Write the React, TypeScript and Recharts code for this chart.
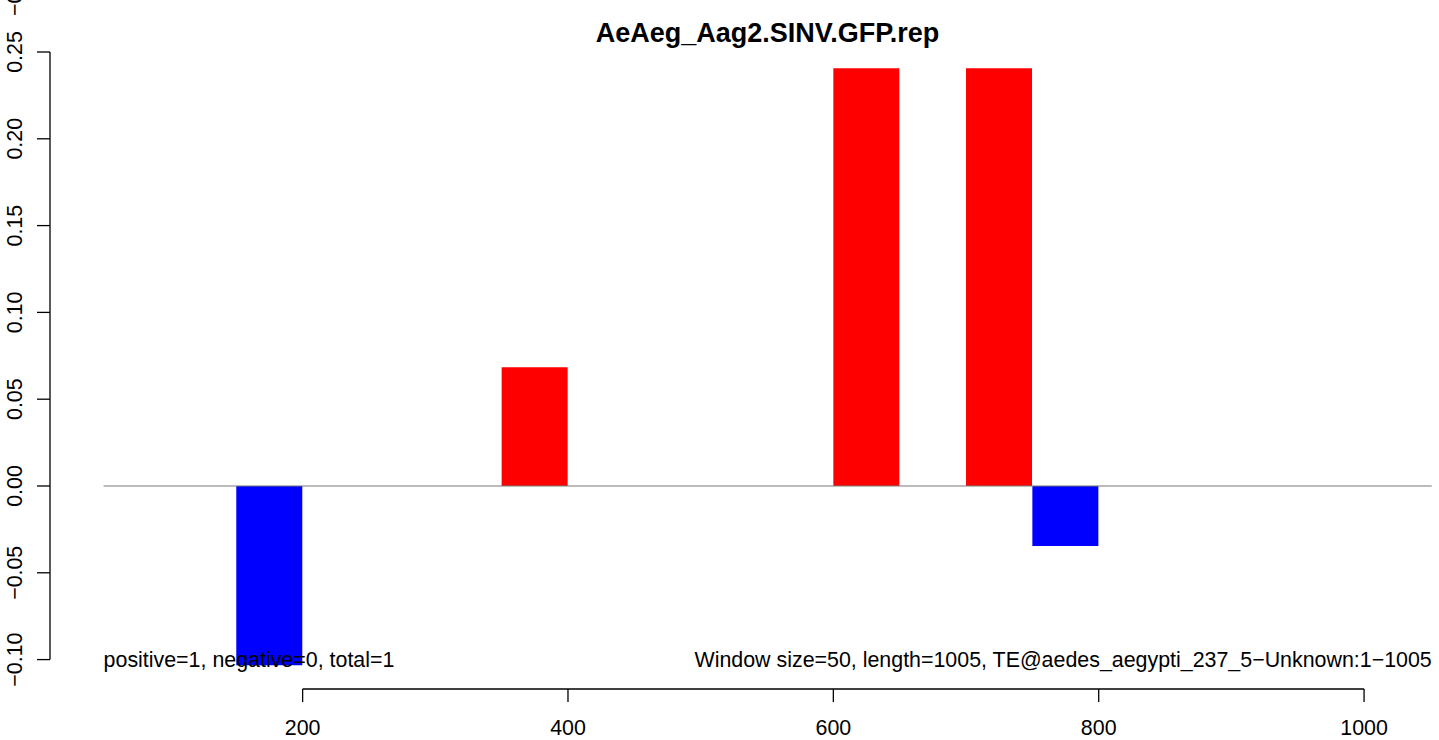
// Window-wise bar chart (R-style base graphics look) with Recharts.
import {
  ComposedChart,
  Bar,
  Cell,
  XAxis,
  YAxis,
  ReferenceLine,
  ReferenceDot,
} from "recharts";

const TITLE = "AeAeg_Aag2.SINV.GFP.rep";
const NOTE_LEFT = "positive=1, negative=0, total=1";
const NOTE_RIGHT =
  "Window size=50, length=1005, TE@aedes_aegypti_237_5\u2212Unknown:1\u22121005";

// Window midpoints (window size 50) and the score of each window.
const windowMids = [
  25, 75, 125, 175, 225, 275, 325, 375, 425, 475, 525, 575, 625, 675, 725, 775,
  825, 875, 925, 975, 1025,
];
const windowValues = [
  0, 0, 0, -0.1032, 0, 0, 0, 0.0684, 0, 0, 0, 0, 0.2406, 0, 0.2406, -0.0346, 0,
  0, 0, 0, 0,
];

const xTicks = [200, 400, 600, 800, 1000];
const yTicks = [-0.1, -0.05, 0, 0.05, 0.1, 0.15, 0.2, 0.25];

// Axis domains and the extent of the zero line / notes.
const X_DOMAIN: [number, number] = [9.6, 1051.2];
const Y_DOMAIN: [number, number] = [-0.11694, 0.26267];
const LINE_START = 50;
const LINE_END = 1051;
const NOTE_Y = -0.1;

const POS_COLOR = "#FF0000";
const NEG_COLOR = "#0000FF";
const ZERO_COLOR = "#777777";
const FONT = '"Liberation Sans", Arial, Helvetica, sans-serif';
const FS = 21.4;

const data = windowMids.map((mid, i) => ({ mid, value: windowValues[i] }));

function XTick({ x, y, payload }: any) {
  return (
    <text
      x={x}
      y={y}
      dy={31}
      textAnchor="middle"
      fontSize={FS}
      fontFamily={FONT}
      fill="#000"
    >
      {payload.value}
    </text>
  );
}

function YTick({ y, payload }: any) {
  return (
    <text
      transform={`translate(22, ${y}) rotate(-90)`}
      textAnchor="middle"
      fontSize={FS}
      fontFamily={FONT}
      fill="#000"
    >
      {payload.value.toFixed(2).replace("-", "\u2212")}
    </text>
  );
}

export default function App() {
  return (
    <div
      style={{
        position: "absolute",
        left: 0,
        top: 0,
        width: 1439,
        height: 740,
        background: "#fff",
      }}
    >
      <ComposedChart
        width={1439}
        height={740}
        data={data}
        margin={{ top: 30, right: 7, bottom: 0, left: 0 }}
        barCategoryGap={0}
      >
        <XAxis
          type="number"
          dataKey="mid"
          domain={X_DOMAIN}
          ticks={xTicks}
          height={51}
          axisLine={false}
          tickSize={13}
          tickLine={{ stroke: "#000", strokeWidth: 1.3 }}
          tick={<XTick />}
          interval={0}
          allowDataOverflow
        />
        <YAxis
          type="number"
          domain={Y_DOMAIN}
          ticks={yTicks}
          width={50}
          axisLine={false}
          tickSize={13}
          tickLine={{ stroke: "#000", strokeWidth: 1.3 }}
          tick={<YTick />}
          interval={0}
          allowDataOverflow
        />
        <ReferenceLine
          segment={[
            { x: xTicks[0], y: Y_DOMAIN[0] },
            { x: xTicks[xTicks.length - 1], y: Y_DOMAIN[0] },
          ]}
          stroke="#000"
          strokeWidth={1.3}
          ifOverflow="visible"
        />
        <ReferenceLine
          segment={[
            { x: X_DOMAIN[0], y: yTicks[0] },
            { x: X_DOMAIN[0], y: yTicks[yTicks.length - 1] },
          ]}
          stroke="#000"
          strokeWidth={1.3}
          ifOverflow="visible"
        />
        <ReferenceLine
          segment={[
            { x: LINE_START, y: 0 },
            { x: LINE_END, y: 0 },
          ]}
          stroke={ZERO_COLOR}
          strokeWidth={1}
          ifOverflow="visible"
        />
        <Bar dataKey="value" isAnimationActive={false}>
          {data.map((d, i) => (
            <Cell key={i} fill={d.value >= 0 ? POS_COLOR : NEG_COLOR} />
          ))}
        </Bar>
        <ReferenceDot
          x={LINE_START}
          y={NOTE_Y}
          r={0}
          fill="none"
          stroke="none"
          ifOverflow="visible"
          label={{
            value: NOTE_LEFT,
            position: "right",
            offset: 0,
            fontSize: FS,
            fontFamily: FONT,
            fill: "#000",
          }}
        />
        <ReferenceDot
          x={LINE_END}
          y={NOTE_Y}
          r={0}
          fill="none"
          stroke="none"
          ifOverflow="visible"
          label={{
            value: NOTE_RIGHT,
            position: "left",
            offset: 0,
            fontSize: FS,
            fontFamily: FONT,
            fill: "#000",
          }}
        />
      </ComposedChart>
      <svg
        width={1439}
        height={60}
        style={{ position: "absolute", left: 0, top: 0, pointerEvents: "none" }}
      >
        <text
          x={767.5}
          y={42}
          textAnchor="middle"
          fontSize={27}
          fontWeight="bold"
          fontFamily={FONT}
          fill="#000"
        >
          {TITLE}
        </text>
        <text
          transform="translate(22, 16) rotate(-90)"
          textAnchor="start"
          fontSize={FS}
          fontFamily={FONT}
          fill="#000"
        >
          {"\u22120.30"}
        </text>
      </svg>
    </div>
  );
}
